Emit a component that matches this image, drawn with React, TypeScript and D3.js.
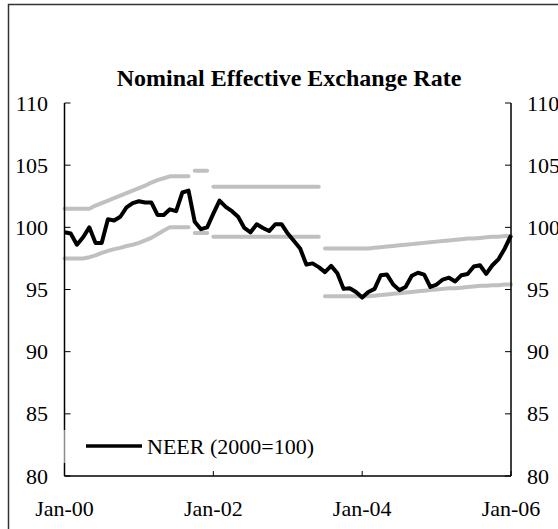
import React from "react";
import * as d3 from "d3";

// Monthly index 0 = Jan-00 ... 72 = Jan-06
const neer: number[] = [
  99.6, 99.5, 98.6, 99.2, 100.0, 98.75, 98.75, 100.65, 100.55, 100.85, 101.6, 101.95,
  102.1, 102.0, 102.0, 101.0, 101.0, 101.45, 101.3, 102.8, 102.95, 100.45, 99.85, 100.0,
  101.1, 102.15, 101.65, 101.3, 100.85, 99.95, 99.6, 100.25, 99.95, 99.7, 100.25, 100.25,
  99.5, 98.9, 98.3, 97.0, 97.1, 96.8, 96.4, 96.9, 96.3, 95.05, 95.1, 94.8,
  94.35, 94.8, 95.05, 96.15, 96.2, 95.4, 94.95, 95.2, 96.1, 96.35, 96.2, 95.2,
  95.4, 95.8, 95.95, 95.65, 96.15, 96.25, 96.85, 96.95, 96.25, 96.95, 97.45, 98.3,
  99.35,
];

// Upper band (null = gap between segments)
const upperBand: (number | null)[] = [
  101.5, 101.5, 101.5, 101.5, 101.5, 101.75, 101.95, 102.15, 102.35, 102.55, 102.75, 102.95,
  103.15, 103.35, 103.6, 103.8, 103.95, 104.1, 104.1, 104.1, 104.1, 104.55, 104.55, 104.55,
  103.27, 103.27, 103.27, 103.27, 103.27, 103.27, 103.27, 103.27, 103.27, 103.27, 103.27, 103.27,
  103.27, 103.27, 103.27, 103.27, 103.27, 103.27, 98.3, 98.3, 98.3, 98.3, 98.3, 98.3,
  98.3, 98.3, 98.35, 98.4, 98.45, 98.5, 98.55, 98.6, 98.65, 98.7, 98.75, 98.8,
  98.85, 98.9, 98.95, 99.0, 99.05, 99.1, 99.1, 99.15, 99.2, 99.25, 99.25, 99.3,
  99.3,
];

const lowerBand: (number | null)[] = [
  97.5, 97.5, 97.5, 97.5, 97.6, 97.75, 97.95, 98.1, 98.25, 98.35, 98.5, 98.6,
  98.75, 98.95, 99.15, 99.45, 99.75, 100.0, 100.0, 100.0, 100.0, 99.55, 99.55, 99.55,
  99.25, 99.25, 99.25, 99.25, 99.25, 99.25, 99.25, 99.25, 99.25, 99.25, 99.25, 99.25,
  99.25, 99.25, 99.25, 99.25, 99.25, 99.25, 94.45, 94.45, 94.45, 94.45, 94.45, 94.45,
  94.45, 94.45, 94.5, 94.55, 94.6, 94.65, 94.7, 94.75, 94.8, 94.85, 94.9, 94.95,
  95.0, 95.05, 95.1, 95.1, 95.15, 95.2, 95.25, 95.3, 95.3, 95.35, 95.35, 95.4,
  95.4,
];

// segment boundaries (month indices where a new band segment starts)
const segmentStarts: number[] = [0, 21, 24, 42];

const xTickMonths: number[] = [0, 24, 48, 72];
const xTickLabels: string[] = ["Jan-00", "Jan-02", "Jan-04", "Jan-06"];
const yTicks: number[] = [80, 85, 90, 95, 100, 105, 110];

const title = "Nominal Effective Exchange Rate";
const legendLabel = "NEER (2000=100)";

const FONT = "'Liberation Serif', 'Times New Roman', serif";

export default function App() {
  const W = 558;
  const H = 529;
  const x = d3.scaleLinear().domain([0, 72]).range([64.5, 511]);
  const y = d3.scaleLinear().domain([80, 110]).range([476, 103]);

  const line = d3
    .line<number>()
    .x((_, i) => x(i))
    .y((d) => y(d));

  const bandPaths = (arr: (number | null)[]) =>
    segmentStarts.map((s, k) => {
      const e = k + 1 < segmentStarts.length ? segmentStarts[k + 1] - 1 : arr.length - 1;
      const pts: [number, number][] = [];
      for (let i = s; i <= e; i++) {
        const v = arr[i];
        if (v != null) pts.push([x(i), y(v)]);
      }
      return d3.line()(pts) || "";
    });

  const left = x(0);
  const right = x(72);
  const bottom = y(80);
  const top = y(110);

  return (
    <svg
      width={W}
      height={H}
      style={{ position: "absolute", left: 0, top: 0, background: "#fff" }}
      fontFamily={FONT}
    >
      <rect x={0} y={0} width={W} height={H} fill="#fff" />
      <rect x={8.5} y={4.5} width={700} height={700} fill="none" stroke="#333" strokeWidth={1.5} />

      <text x={289} y={86} textAnchor="middle" fontSize={24} fontWeight="bold" fill="#000">
        {title}
      </text>

      {/* bands */}
      {bandPaths(upperBand).map((d, i) => (
        <path key={"u" + i} d={d} fill="none" stroke="#c0c0c0" strokeWidth={4} strokeLinecap="round" strokeLinejoin="round" />
      ))}
      {bandPaths(lowerBand).map((d, i) => (
        <path key={"l" + i} d={d} fill="none" stroke="#c0c0c0" strokeWidth={4} strokeLinecap="round" strokeLinejoin="round" />
      ))}

      {/* main line */}
      <path d={line(neer) || ""} fill="none" stroke="#000" strokeWidth={4} strokeLinejoin="round" />

      {/* axes */}
      <line x1={left} y1={top} x2={left} y2={bottom} stroke="#000" strokeWidth={1.5} />
      <line x1={right} y1={top} x2={right} y2={bottom} stroke="#000" strokeWidth={1.5} />
      <line x1={left} y1={bottom} x2={right} y2={bottom} stroke="#000" strokeWidth={1.5} />

      {yTicks.map((t) => (
        <g key={"yt" + t}>
          <line x1={left} x2={left + 6} y1={y(t)} y2={y(t)} stroke="#000" strokeWidth={1} />
          <line x1={right - 6} x2={right} y1={y(t)} y2={y(t)} stroke="#000" strokeWidth={1} />
          <text x={48} y={y(t) + 7.5} textAnchor="end" fontSize={22} fill="#000">
            {t}
          </text>
          <text x={527} y={y(t) + 7.5} textAnchor="start" fontSize={22} fill="#000">
            {t}
          </text>
        </g>
      ))}

      {xTickMonths.map((m, i) => (
        <g key={"xt" + m}>
          <line x1={x(m)} x2={x(m)} y1={bottom} y2={bottom - 5} stroke="#000" strokeWidth={1} />
          <text x={x(m)} y={516} textAnchor="middle" fontSize={22} fill="#000">
            {xTickLabels[i]}
          </text>
        </g>
      ))}

      {/* legend */}
      <rect x={62} y={430} width={6} height={33} fill="#fff" opacity={0.55} />
      <line x1={86} x2={142} y1={446} y2={446} stroke="#000" strokeWidth={3.5} />
      <text x={147} y={453.5} fontSize={22} fill="#000">
        {legendLabel}
      </text>
    </svg>
  );
}
